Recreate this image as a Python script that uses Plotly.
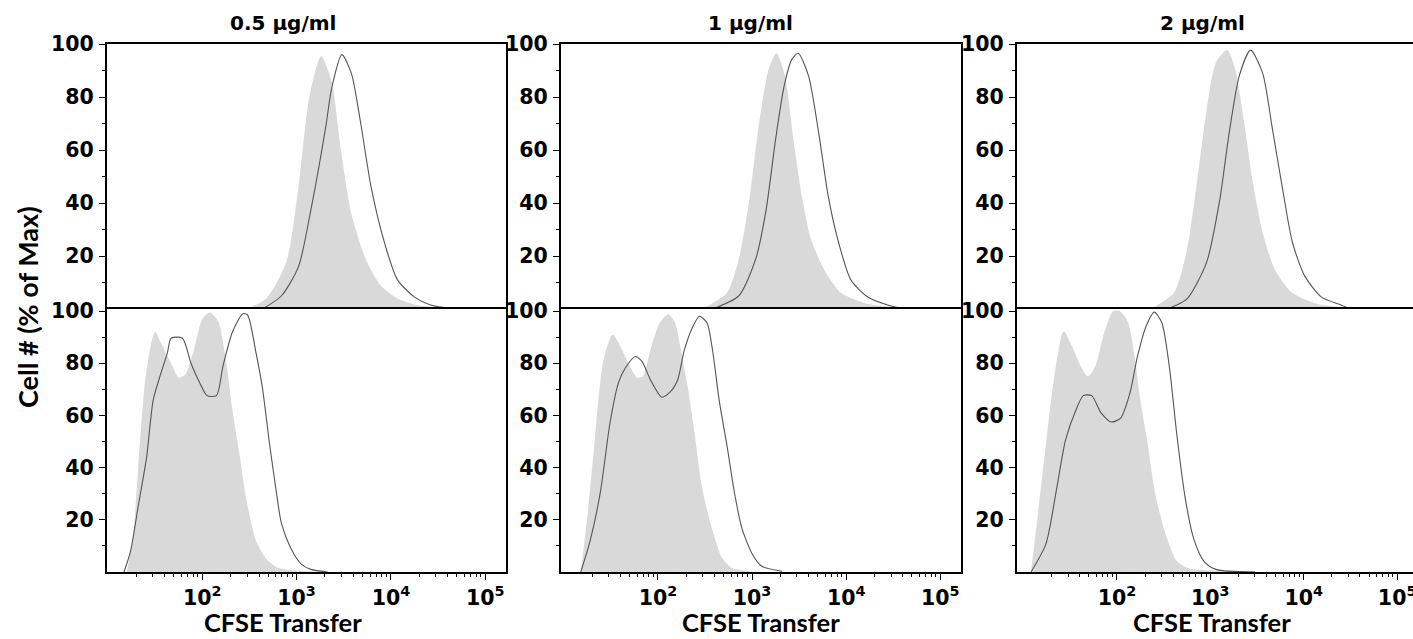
import plotly.graph_objects as go

# ---------------- data (x as log10 of CFSE intensity, y as % of max) ----------------
titles = ["0.5 µg/ml", "1 µg/ml", "2 µg/ml"]
x_tick_vals = [100, 1000, 10000, 100000]
x_tick_text = ["10<sup>2</sup>", "10<sup>3</sup>", "10<sup>4</sup>", "10<sup>5</sup>"]
y_tick_vals = [20, 40, 60, 80, 100]
y_minor_vals = [10, 30, 50, 70, 90]

# Panel 1 (0.5 µg/ml)
p1_top_ctrl_x = [2.47, 2.68, 2.89, 3.02, 3.13, 3.26, 3.37, 3.47, 3.58, 3.73, 3.89, 4.07, 4.28, 4.67]
p1_top_ctrl_y = [0, 4, 17.6, 46, 79, 95.5, 86, 60, 36, 19, 9, 4, 1.5, 0]
p1_top_test_x = [2.64, 2.84, 3.02, 3.16, 3.31, 3.37, 3.48, 3.58, 3.68, 3.79, 3.94, 4.07, 4.25, 4.42, 4.67]
p1_top_test_y = [0, 5, 16, 39, 69, 83, 96, 89, 70, 46, 24, 11, 4.5, 1.5, 0]
p1_bot_ctrl_x = [1.20, 1.27, 1.32, 1.39, 1.46, 1.50, 1.56, 1.67, 1.75, 1.82, 1.91, 2.00, 2.08, 2.17,
                 2.26, 2.32, 2.40, 2.47, 2.57, 2.68, 2.81, 3.02, 3.33]
p1_bot_ctrl_y = [0, 14.7, 40, 72, 88, 92, 88, 80, 74.5, 75.7, 85, 97, 99.5, 96,
                 79, 62, 44, 27, 12, 5, 1.5, 0.5, 0]
p1_bot_test_x = [1.17, 1.24, 1.32, 1.41, 1.48, 1.56, 1.63, 1.67, 1.79, 1.88, 1.98, 2.05, 2.15,
                 2.22, 2.32, 2.43, 2.48, 2.57, 2.64, 2.71, 2.78, 2.84, 2.94, 3.05, 3.15, 3.33]
p1_bot_test_y = [0, 8, 25, 44, 66, 76, 84, 89.6, 89.6, 80, 72, 67.6, 67.6,
                 79, 92, 99, 98.5, 84, 70, 50, 32, 18.5, 9, 3, 1, 0]

# Panel 2 (1 µg/ml)
p2_top_ctrl_x = [2.47, 2.73, 2.86, 2.97, 3.07, 3.18, 3.26, 3.35, 3.44, 3.53, 3.63, 3.78, 3.95, 4.20, 4.62]
p2_top_ctrl_y = [0, 6, 19, 41, 69, 91, 96.5, 88, 64, 42.5, 26, 14, 6, 2.2, 0.3]
p2_top_test_x = [2.58, 2.86, 3.04, 3.15, 3.25, 3.34, 3.42, 3.49, 3.60, 3.71, 3.81, 3.92, 4.05, 4.23, 4.44, 4.63]
p2_top_test_y = [0, 5, 19, 37.6, 64, 84, 94, 96.5, 88, 66, 42.5, 25, 11, 4.5, 1.5, 0]
p2_bot_ctrl_x = [1.18, 1.25, 1.32, 1.42, 1.52, 1.60, 1.70, 1.78, 1.84, 1.93, 2.02, 2.11, 2.18,
                 2.25, 2.32, 2.39, 2.47, 2.58, 2.68, 2.79, 3.00]
p2_bot_ctrl_y = [0, 21, 47, 81, 91, 86.5, 79, 74.5, 75, 86.5, 95.6, 98.8, 95.6,
                 84, 70, 53, 32, 16, 5.5, 1.5, 0.3]
p2_bot_test_x = [1.18, 1.28, 1.39, 1.49, 1.58, 1.65, 1.76, 1.83, 1.92, 2.04, 2.13, 2.21, 2.28,
                 2.37, 2.44, 2.52, 2.58, 2.65, 2.74, 2.81, 2.89, 3.00, 3.10, 3.32]
p2_bot_test_y = [0, 12, 31, 57, 72.5, 78, 82.6, 80.7, 73.7, 67, 69, 73.7, 85,
                 94, 98, 95.6, 85, 66, 47, 31, 17, 7, 2.3, 0.3]

# Panel 3 (2 µg/ml)
p3_top_ctrl_x = [2.36, 2.61, 2.75, 2.85, 2.96, 3.06, 3.18, 3.27, 3.36, 3.45, 3.56, 3.69, 3.87, 4.12, 4.50]
p3_top_ctrl_y = [0, 6, 22.5, 46, 75, 93, 97.7, 90, 71, 49, 29, 15, 6.3, 2.2, 0.3]
p3_top_test_x = [2.54, 2.75, 2.96, 3.10, 3.20, 3.31, 3.43, 3.56, 3.66, 3.77, 3.88, 4.01, 4.19, 4.40, 4.50]
p3_top_test_y = [0, 3.8, 17.6, 41, 66, 88, 97.7, 89, 69, 46, 25, 12.5, 4.5, 1.5, 0]
p3_bot_ctrl_x = [1.08, 1.15, 1.24, 1.33, 1.43, 1.52, 1.61, 1.69, 1.77, 1.85, 1.96, 2.03, 2.12,
                 2.19, 2.25, 2.33, 2.41, 2.52, 2.64, 2.78, 3.48]
p3_bot_ctrl_y = [0, 21, 49, 75, 92.3, 86.5, 79, 75, 79, 90, 100, 100, 95.6,
                 82.6, 66, 49, 30, 14.7, 4.2, 1.3, 0.3]
p3_bot_test_x = [1.08, 1.24, 1.35, 1.45, 1.56, 1.64, 1.73, 1.83, 1.94, 2.04, 2.14, 2.22, 2.31,
                 2.40, 2.48, 2.56, 2.64, 2.73, 2.82, 2.93, 3.06, 3.48]
p3_bot_test_y = [0, 10.8, 31, 50.6, 62, 67.6, 67.6, 61, 57.5, 59, 68.7, 82.6, 94,
                 99.6, 95.6, 79, 53, 28.6, 13, 4.2, 1, 0]

panels = [
    (p1_top_ctrl_x, p1_top_ctrl_y, p1_top_test_x, p1_top_test_y,
     p1_bot_ctrl_x, p1_bot_ctrl_y, p1_bot_test_x, p1_bot_test_y),
    (p2_top_ctrl_x, p2_top_ctrl_y, p2_top_test_x, p2_top_test_y,
     p2_bot_ctrl_x, p2_bot_ctrl_y, p2_bot_test_x, p2_bot_test_y),
    (p3_top_ctrl_x, p3_top_ctrl_y, p3_top_test_x, p3_top_test_y,
     p3_bot_ctrl_x, p3_bot_ctrl_y, p3_bot_test_x, p3_bot_test_y),
]

# ---------------- layout geometry ----------------
W, H = 1413, 639
x_domains = [(107 / W, 506 / W), (561 / W, 961 / W), (1017 / W, 1.0)]
x_ranges = [[0.99, 5.22], [0.97, 5.22], [0.93, 5.17]]
top_dom = [(639 - 309) / H, (639 - 44) / H]
bot_dom = [(639 - 572) / H, (639 - 309) / H]

FILL = "#d9d9d9"
LINE = "#555555"
tick_font = dict(family="DejaVu Sans", size=20.5, color="black", weight="bold")
minor_x = [m * 10 ** e for e in range(1, 5) for m in range(2, 10)]

fig = go.Figure()
layout = {}

ax = 1
for i, data in enumerate(panels):
    (tcx, tcy, ttx, tty, bcx, bcy, btx, bty) = data
    for row, (cx, cy, tx, ty, dom) in enumerate([(tcx, tcy, ttx, tty, top_dom),
                                                  (bcx, bcy, btx, bty, bot_dom)]):
        xa = "x" if ax == 1 else f"x{ax}"
        ya = "y" if ax == 1 else f"y{ax}"
        fig.add_trace(go.Scatter(x=[10 ** v for v in cx], y=cy, mode="lines",
                                 fill="tozeroy", fillcolor=FILL,
                                 line=dict(width=0, color=FILL, shape="spline", smoothing=0.7),
                                 xaxis=xa, yaxis=ya, showlegend=False, hoverinfo="skip"))
        fig.add_trace(go.Scatter(x=[10 ** v for v in tx], y=ty, mode="lines",
                                 line=dict(width=1.1, color=LINE, shape="spline", smoothing=0.7),
                                 xaxis=xa, yaxis=ya, showlegend=False, hoverinfo="skip"))
        is_bottom = (row == 1)
        xkey = "xaxis" if ax == 1 else f"xaxis{ax}"
        ykey = "yaxis" if ax == 1 else f"yaxis{ax}"
        layout[xkey] = dict(
            type="log", domain=list(x_domains[i]), range=x_ranges[i], anchor=ya,
            automargin=False, ticklabeloverflow="allow",
            side="bottom" if is_bottom else "top",
            showgrid=False, zeroline=False, showline=True, linecolor="black", linewidth=2,
            mirror=True if is_bottom else False,
            tickvals=x_tick_vals if is_bottom else [],
            ticktext=x_tick_text if is_bottom else [],
            ticks="outside" if is_bottom else "", ticklen=6, tickwidth=1.2, tickcolor="black",
            tickfont=tick_font,
            minor=dict(tickvals=minor_x, ticks="outside", ticklen=3, tickwidth=1,
                       tickcolor="black") if is_bottom else dict(ticks=""),
        )
        layout[ykey] = dict(
            domain=dom, range=[0, 100] if row == 0 else [0, 100.8], anchor=xa,
            automargin=False, ticklabeloverflow="allow",
            showgrid=False, zeroline=False, showline=True, linecolor="black", linewidth=2,
            mirror=(i < 2),
            tickvals=y_tick_vals, ticks="outside", ticklen=6, tickwidth=1.2, tickcolor="black",
            tickfont=tick_font, ticklabelstandoff=1,
            minor=dict(tickvals=y_minor_vals, ticks="outside", ticklen=3, tickwidth=1,
                       tickcolor="black"),
        )
        ax += 1

title_font = dict(family="DejaVu Sans", size=20, color="black")
label_font = dict(family="Lato", size=25.5, color="black")
ylabel_font = dict(family="Lato", size=27, color="black")
annotations = []
title_x = [283, 750, 1202]
xlabel_x = [283, 761, 1212]
for i in range(3):
    annotations.append(dict(text=f"<b>{titles[i]}</b>", x=title_x[i] / W, y=(639 - 23) / H,
                            xref="paper", yref="paper", showarrow=False, font=title_font,
                            xanchor="center", yanchor="middle"))
    annotations.append(dict(text="<b>CFSE Transfer</b>", x=xlabel_x[i] / W, y=(639 - 622) / H,
                            xref="paper", yref="paper", showarrow=False, font=label_font,
                            xanchor="center", yanchor="middle"))
annotations.append(dict(text="<b>Cell # (% of Max)</b>", x=27 / W, y=(639 - 307) / H,
                        xref="paper", yref="paper", showarrow=False, font=ylabel_font,
                        textangle=-90, xanchor="center", yanchor="middle"))

fig.update_layout(width=W, height=H, margin=dict(l=0, r=0, t=0, b=0, autoexpand=False),
                  paper_bgcolor="white", plot_bgcolor="white",
                  annotations=annotations, **layout)

fig.write_html("out.html", config={"displayModeBar": False},
               post_script="document.body.style.margin='0';document.body.style.overflow='hidden';")
